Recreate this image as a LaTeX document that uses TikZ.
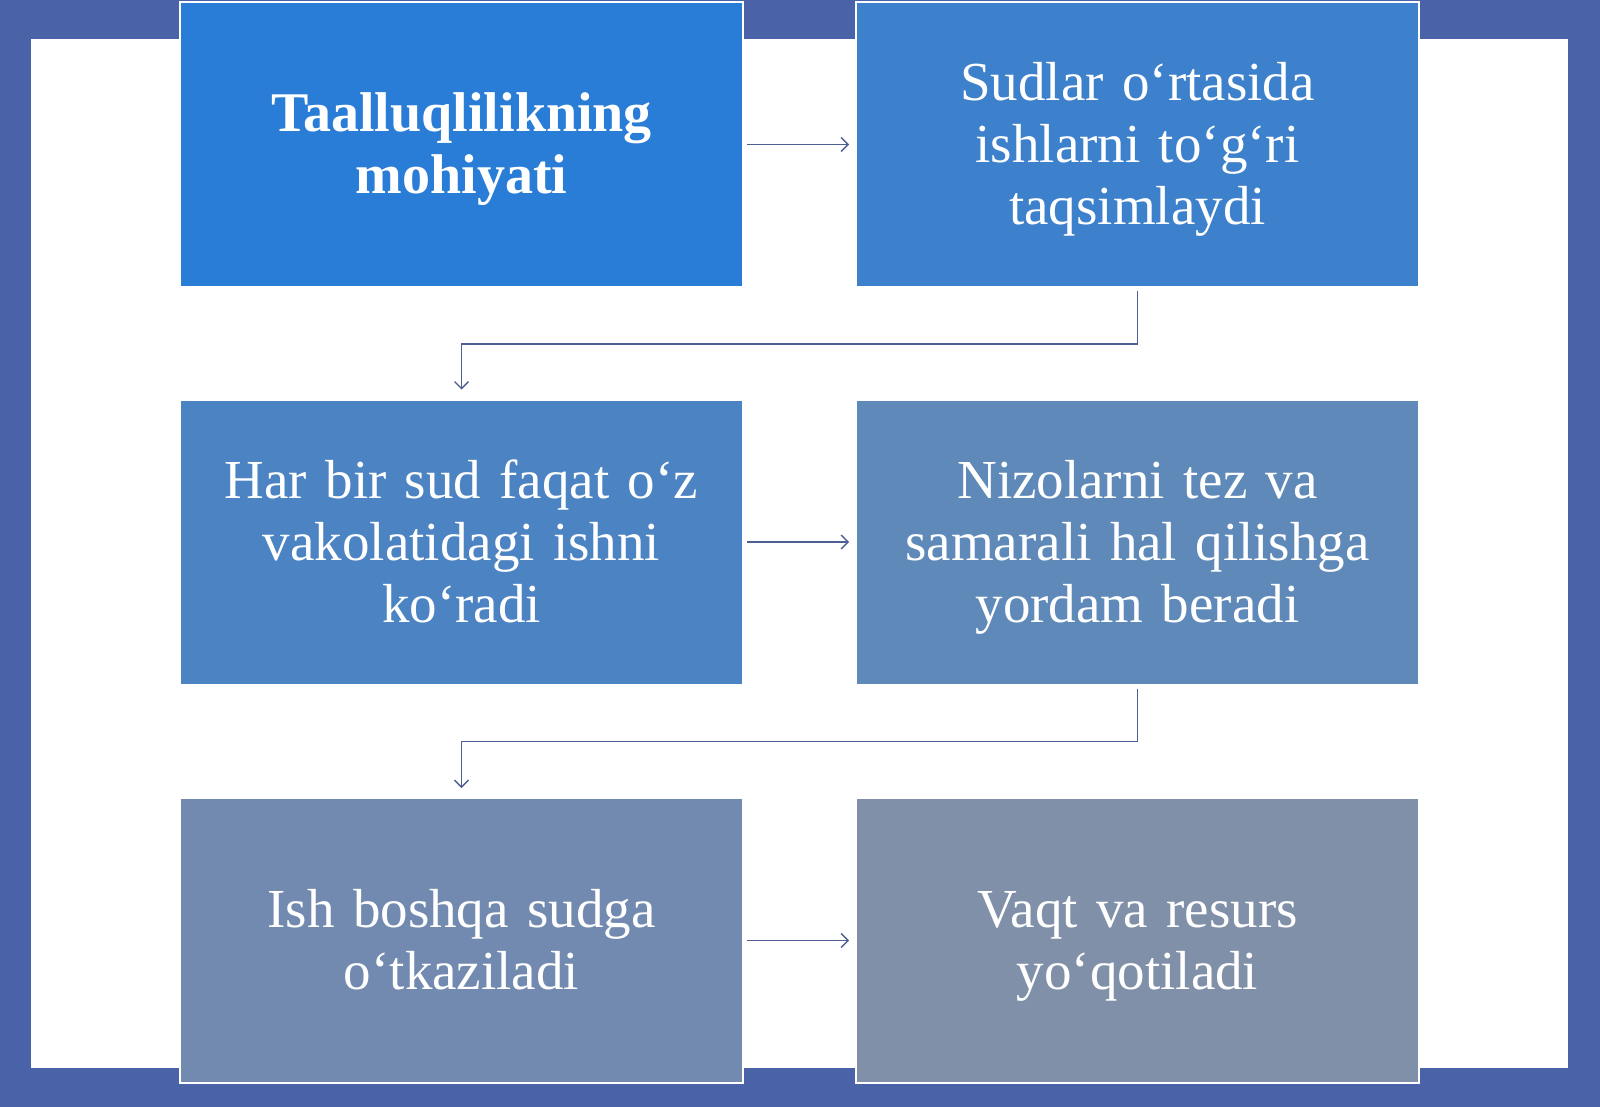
\documentclass[tikz,border=0pt]{standalone}
\usepackage{fontspec}
\setmainfont{Liberation Serif}
\usetikzlibrary{arrows.meta}
\definecolor{frameblue}{HTML}{4A62A8}
\definecolor{cA}{HTML}{2A7DD6}
\definecolor{cB}{HTML}{3D80CB}
\definecolor{cC}{HTML}{4C83C3}
\definecolor{cD}{HTML}{5F89B9}
\definecolor{cE}{HTML}{728AAF}
\definecolor{cF}{HTML}{8090A8}
\definecolor{linec}{HTML}{4E5F92}
\tikzset{
  box/.style={draw=white, line width=2pt, minimum width=563pt, minimum height=285pt,
    inner sep=0pt, text=white, align=center, text width=540pt,
    font=\fontsize{55}{62}\selectfont},
  conn/.style={draw=linec, line width=1.4pt, -{Straight Barb[length=7pt,width=14pt,line width=1.4pt]}}
}
\newcommand{\ltop}{\rule{0pt}{52pt}}
\newcommand{\lbot}{\rule[-16pt]{0pt}{16pt}}
\begin{document}
\begin{tikzpicture}[x=1pt,y=-1pt]
\fill[frameblue] (0,0) rectangle (1600,1107);
\fill[white] (31,39) rectangle (1568,1068);
\useasboundingbox (0,0) rectangle (1600,1107);
\node[box, fill=cA, font=\fontsize{56}{62}\selectfont\bfseries] (a) at (461.5,144.5) {\ltop Taalluqlilikning\\mohiyati\lbot};
\node[box, fill=cB] (b) at (1137.5,144.5) {\ltop Sudlar o‘rtasida\\ishlarni to‘g‘ri\\taqsimlaydi\lbot};
\node[box, fill=cC] (c) at (461.5,542) {\ltop Har bir sud faqat o‘z\\vakolatidagi ishni\\ko‘radi\lbot};
\node[box, fill=cD] (d) at (1137.5,542) {\ltop Nizolarni tez va\\samarali hal qilishga\\yordam beradi\lbot};
\node[box, fill=cE] (e) at (461.5,940.5) {\ltop Ish boshqa sudga\\o‘tkaziladi\lbot};
\node[box, fill=cF] (f) at (1137.5,940.5) {\ltop Vaqt va resurs\\yo‘qotiladi\lbot};
\draw[conn] ([xshift=3pt]a.east) -- ([xshift=-6pt]b.west);
\draw[conn] ([xshift=3pt]c.east) -- ([xshift=-6pt]d.west);
\draw[conn] ([xshift=3pt]e.east) -- ([xshift=-6pt]f.west);
\draw[conn] ([yshift=-3pt]b.south) -- ++(0,53) -| ([yshift=9pt]c.north);
\draw[conn] ([yshift=-3pt]d.south) -- ++(0,53) -| ([yshift=9pt]e.north);
\end{tikzpicture}
\end{document}
